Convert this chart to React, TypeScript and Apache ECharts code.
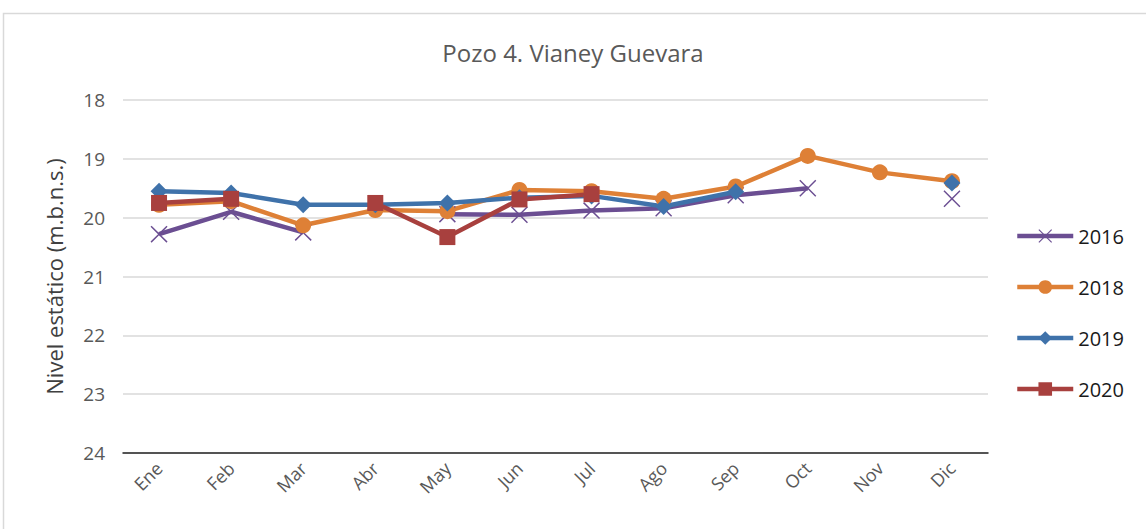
import React, { useEffect, useRef } from "react";
import * as echarts from "echarts";

const months = ["Ene", "Feb", "Mar", "Abr", "May", "Jun", "Jul", "Ago", "Sep", "Oct", "Nov", "Dic"];
const s2016 = [20.28, 19.9, 20.25, null, 19.94, 19.95, 19.88, 19.84, 19.62, 19.5, null, 19.68];
const s2018 = [19.78, 19.72, 20.13, 19.87, 19.89, 19.53, 19.55, 19.68, 19.47, 18.95, 19.23, 19.38];
const s2019 = [19.55, 19.58, 19.78, 19.78, 19.75, 19.66, 19.63, 19.81, 19.56, null, null, 19.41];
const s2020 = [19.75, 19.68, null, 19.75, 20.33, 19.69, 19.6, null, null, null, null, null];
const yTicks = { min: 18, max: 24, interval: 1 };

const FONT = "'Open Sans', 'Noto Sans', sans-serif";
const X_PATH =
  "path://M0,1.2 L1.2,0 L10,8.8 L18.8,0 L20,1.2 L11.2,10 L20,18.8 L18.8,20 L10,11.2 L1.2,20 L0,18.8 L8.8,10 Z";

export default function App() {
  const ref = useRef<HTMLDivElement>(null);
  useEffect(() => {
    const chart = echarts.init(ref.current!, null, { renderer: "svg" });
    const mk = (name: string, data: any[], color: string, symbol: string, size: number) => ({
      name,
      type: "line",
      data,
      symbol,
      symbolSize: size,
      connectNulls: false,
      lineStyle: { color, width: 4.5 },
      itemStyle: { color },
    });
    chart.setOption({
      animation: false,
      backgroundColor: "#ffffff",
      title: {
        text: "Pozo 4. Vianey Guevara",
        left: "center",
        top: 35,
        textStyle: { fontFamily: FONT, fontSize: 24, fontWeight: "normal", color: "#595959" },
      },
      graphic: [
        {
          type: "rect",
          shape: { x: 3.5, y: 13.5, width: 1160, height: 540 },
          style: { fill: "none", stroke: "#d9d9d9", lineWidth: 1.5 },
          silent: true,
        },
      ],
      legend: {
        orient: "vertical",
        left: 1010,
        top: 221,
        itemWidth: 56,
        itemHeight: 17,
        itemGap: 31,
        lineStyle: { width: 4.5 },
        textStyle: { fontFamily: FONT, fontSize: 20, color: "#1a1a1a" },
        data: ["2016", "2018", "2019", "2020"],
      },
      grid: { left: 123, right: 158, top: 100, bottom: 76 },
      xAxis: {
        type: "category",
        data: months,
        boundaryGap: true,
        axisLine: { lineStyle: { color: "#262626", width: 1.5 } },
        axisTick: { show: false },
        axisLabel: { rotate: 45, fontFamily: FONT, fontSize: 18, color: "#595959", margin: 12 },
      },
      yAxis: {
        type: "value",
        inverse: true,
        min: yTicks.min,
        max: yTicks.max,
        interval: yTicks.interval,
        name: "Nivel estático (m.b.n.s.)",
        nameLocation: "middle",
        nameGap: 58,
        nameTextStyle: { fontFamily: FONT, fontSize: 22, color: "#404040" },
        axisLine: { show: false },
        axisTick: { show: false },
        axisLabel: { fontFamily: FONT, fontSize: 19, color: "#595959", margin: 18 },
        splitLine: { lineStyle: { color: "#d9d9d9", width: 1.5 } },
      },
      series: [
        mk("2016", s2016, "#6b4e92", X_PATH, 17),
        mk("2018", s2018, "#de8036", "circle", 16),
        mk("2019", s2019, "#3f72aa", "diamond", 17),
        mk("2020", s2020, "#a8403e", "rect", 16),
      ],
    });
    return () => chart.dispose();
  }, []);
  return (
    <div
      ref={ref}
      style={{ position: "absolute", left: 0, top: 0, width: 1146, height: 529 }}
    />
  );
}
